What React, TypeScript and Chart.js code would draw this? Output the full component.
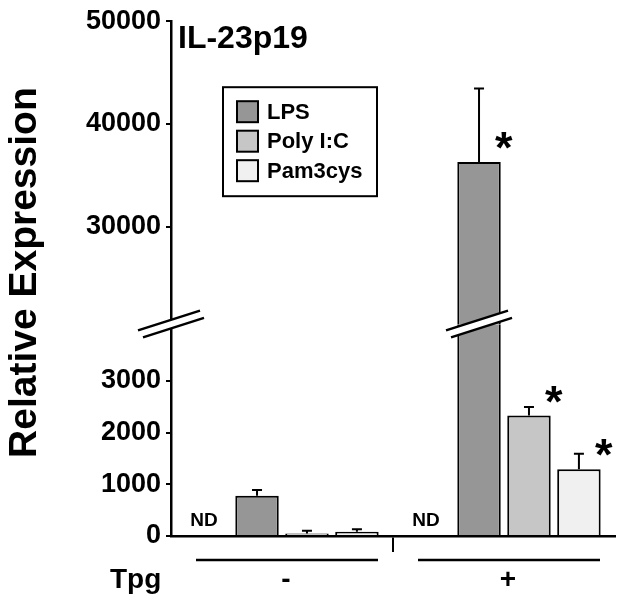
import React, { useEffect, useRef } from 'react';
import { Chart, registerables } from 'chart.js';

Chart.register(...registerables);

// ---------- data ----------
const GROUPS = ['-', '+'];
const TREATMENTS = ['LPS', 'Poly I:C', 'Pam3cys'];
const LPS_VALUES = [780, 36300];
const POLY_VALUES = [50, 2330];
const PAM_VALUES = [80, 1290];
const LPS_ERRORS = [110, 7150];
const POLY_ERRORS = [50, 165];
const PAM_ERRORS = [50, 300];
const LPS_SIG = [false, true];
const POLY_SIG = [false, true];
const PAM_SIG = [false, true];
const ND_LABELS = ['ND', 'ND'];
const LOW_TICKS = [0, 1000, 2000, 3000];
const HIGH_TICKS = [30000, 40000, 50000];
const LOW_MAX = 4100;
const HIGH_MIN = 20500;
const HIGH_MAX = 50000;
const CHART_TITLE = 'IL-23p19';
const Y_TITLE = 'Relative Expression';
const X_TITLE = 'Tpg';

const VALUES = [LPS_VALUES, POLY_VALUES, PAM_VALUES];
const ERRORS = [LPS_ERRORS, POLY_ERRORS, PAM_ERRORS];
const SIGS = [LPS_SIG, POLY_SIG, PAM_SIG];
const COLORS = ['#969696', '#c6c6c6', '#f0f0f0'];

const FONT = "'Liberation Sans', Arial, Helvetica, sans-serif";

function drawBreak(ctx: CanvasRenderingContext2D, cx: number, cy: number) {
  const slope = 0.32;
  const gap = 4.3;
  const l1 = [cx - 33, cx + 29];
  const l2 = [cx - 28, cx + 33];
  const yAt = (x: number, off: number) => cy - (x - cx) * slope + off;
  ctx.save();
  ctx.fillStyle = '#ffffff';
  ctx.beginPath();
  ctx.moveTo(l1[0], yAt(l1[0], -gap));
  ctx.lineTo(l1[1], yAt(l1[1], -gap));
  ctx.lineTo(l2[1], yAt(l2[1], gap));
  ctx.lineTo(l2[0], yAt(l2[0], gap));
  ctx.closePath();
  ctx.fill();
  ctx.strokeStyle = '#000';
  ctx.lineWidth = 2.5;
  ctx.beginPath();
  ctx.moveTo(l1[0], yAt(l1[0], -gap));
  ctx.lineTo(l1[1], yAt(l1[1], -gap));
  ctx.moveTo(l2[0], yAt(l2[0], gap));
  ctx.lineTo(l2[1], yAt(l2[1], gap));
  ctx.stroke();
  ctx.restore();
}

const decor = {
  id: 'decor',
  afterDatasetsDraw(chart: any) {
    const ctx: CanvasRenderingContext2D = chart.ctx;
    const yLow = chart.scales.yLow;
    const yHigh = chart.scales.yHigh;
    ctx.save();
    TREATMENTS.forEach((_t, ti) => {
      const vals = VALUES[ti];
      vals.forEach((v, i) => {
        const el = chart.getDatasetMeta(1 + 2 * ti).data[i];
        const x = el.x;
        const scale = v > LOW_MAX ? yHigh : yLow;
        const y0 = scale.getPixelForValue(v);
        const y1 = scale.getPixelForValue(v + ERRORS[ti][i]);
        ctx.strokeStyle = '#000';
        ctx.lineWidth = 2;
        ctx.beginPath();
        ctx.moveTo(x, y0);
        ctx.lineTo(x, y1);
        ctx.moveTo(x - 5, y1);
        ctx.lineTo(x + 5, y1);
        ctx.stroke();
        if (SIGS[ti][i]) {
          ctx.fillStyle = '#000';
          ctx.font = `bold 45px ${FONT}`;
          ctx.textAlign = 'center';
          ctx.textBaseline = 'alphabetic';
          ctx.fillText('*', x + el.width / 2 + 3, y0 + 1);
        }
      });
    });
    // ND labels
    const ndMeta = chart.getDatasetMeta(0);
    ctx.fillStyle = '#000';
    ctx.font = `bold 19px ${FONT}`;
    ctx.textAlign = 'center';
    ctx.textBaseline = 'middle';
    ND_LABELS.forEach((lab, i) => {
      const el = ndMeta.data[i];
      ctx.fillText(lab, el.x - 3, yLow.getPixelForValue(0) - 15);
    });
    ctx.restore();
  },
  afterDraw(chart: any) {
    const ctx: CanvasRenderingContext2D = chart.ctx;
    const area = chart.chartArea;
    const yLow = chart.scales.yLow;
    const xScale = chart.scales.x;
    const breakY = yLow.top;
    // axis break
    drawBreak(ctx, area.left, breakY);
    // bar breaks
    TREATMENTS.forEach((_t, ti) => {
      VALUES[ti].forEach((v, i) => {
        if (v > LOW_MAX) {
          const el = chart.getDatasetMeta(1 + 2 * ti).data[i];
          drawBreak(ctx, el.x, breakY);
        }
      });
    });
    ctx.save();
    ctx.fillStyle = '#000';
    // chart title
    ctx.font = `bold 32px ${FONT}`;
    ctx.textAlign = 'left';
    ctx.textBaseline = 'alphabetic';
    ctx.fillText(CHART_TITLE, area.left + 7, area.top + 27);
    // y title
    ctx.save();
    ctx.translate(36, (area.top + area.bottom) / 2 - 6);
    ctx.rotate(-Math.PI / 2);
    ctx.font = `bold 39px ${FONT}`;
    ctx.textAlign = 'center';
    ctx.textBaseline = 'alphabetic';
    ctx.fillText(Y_TITLE, 0, 0);
    ctx.restore();
    // legend
    const lx = area.left + 52;
    const ly = area.top + 66;
    ctx.strokeStyle = '#000';
    ctx.lineWidth = 2;
    ctx.strokeRect(lx, ly, 154, 109);
    TREATMENTS.forEach((t, ti) => {
      const sy = ly + 14 + ti * 29.5;
      ctx.fillStyle = COLORS[ti];
      ctx.fillRect(lx + 14, sy, 21, 21);
      ctx.strokeStyle = '#000';
      ctx.lineWidth = 2;
      ctx.strokeRect(lx + 14, sy, 21, 21);
      ctx.fillStyle = '#000';
      ctx.font = `bold 22px ${FONT}`;
      ctx.textAlign = 'left';
      ctx.textBaseline = 'middle';
      ctx.fillText(t, lx + 44, sy + 11.5);
    });
    // group lines and labels
    const bottom = area.bottom;
    ctx.font = `bold 28px ${FONT}`;
    ctx.textAlign = 'center';
    ctx.textBaseline = 'alphabetic';
    GROUPS.forEach((g, i) => {
      const cx = xScale.getPixelForValue(i);
      ctx.lineWidth = 2.5;
      ctx.beginPath();
      ctx.moveTo(cx - 86, bottom + 24);
      ctx.lineTo(cx + 96, bottom + 24);
      ctx.stroke();
      ctx.fillText(g, cx + 4, bottom + 52);
    });
    ctx.textAlign = 'left';
    ctx.fillText(X_TITLE, 110, bottom + 52);
    ctx.restore();
  },
};

export default function App() {
  const ref = useRef<HTMLCanvasElement>(null);
  useEffect(() => {
    const canvas = ref.current;
    if (!canvas) return;
    const datasets: any[] = [
      {
        label: 'ND',
        data: GROUPS.map(() => 0),
        yAxisID: 'yLow',
        stack: 'none',
        backgroundColor: 'rgba(0,0,0,0)',
        borderWidth: 0,
      },
    ];
    TREATMENTS.forEach((t, ti) => {
      const vals = VALUES[ti];
      datasets.push({
        label: t,
        data: vals.map((v) => Math.min(v, LOW_MAX)),
        yAxisID: 'yLow',
        stack: t,
        backgroundColor: COLORS[ti],
        borderColor: '#000',
        borderWidth: (c: any) =>
          c.raw >= LOW_MAX ? { left: 2, right: 2, top: 0, bottom: 0 } : 2,
      });
      datasets.push({
        label: t + ' high',
        data: vals.map((v) => (v > LOW_MAX ? v : null)),
        yAxisID: 'yHigh',
        stack: t,
        backgroundColor: COLORS[ti],
        borderColor: '#000',
        borderWidth: 2,
      });
    });

    const yCommon = (tickValues: number[]) => ({
      type: 'linear',
      position: 'left',
      stack: 'y',
      stacked: false,
      offset: false,
      beginAtZero: false,
      border: { display: true, color: '#000', width: 2.5 },
      grid: {
        drawOnChartArea: false,
        drawTicks: true,
        tickLength: 5,
        color: '#000',
        lineWidth: 2,
      },
      ticks: {
        padding: 5,
        color: '#000',
        autoSkip: false,
        font: { family: FONT, size: 27, weight: 'bold' },
        callback: (v: any) => String(v),
      },
      afterBuildTicks: (s: any) => {
        s.ticks = tickValues.map((v) => ({ value: v }));
      },
      afterFit: (s: any) => {
        s.width = 171;
      },
    });

    const chart = new Chart(canvas, {
      type: 'bar',
      data: { labels: GROUPS, datasets },
      plugins: [decor],
      options: {
        animation: false,
        responsive: false,
        maintainAspectRatio: false,
        layout: { padding: { left: 0, top: 20, right: 9, bottom: 0 } },
        datasets: { bar: { categoryPercentage: 0.9, barPercentage: 0.87 } },
        plugins: {
          legend: { display: false },
          tooltip: { enabled: false },
          title: { display: false },
        },
        scales: {
          x: {
            type: 'category',
            stacked: true,
            offset: true,
            border: { display: true, color: '#000', width: 2.5 },
            grid: {
              offset: true,
              drawOnChartArea: false,
              drawTicks: true,
              tickLength: 16,
              lineWidth: 2,
              color: (c: any) => (c.index === 1 ? '#000' : 'rgba(0,0,0,0)'),
            },
            ticks: { display: false },
            afterFit: (s: any) => {
              s.height = 67;
            },
          },
          yLow: {
            ...yCommon(LOW_TICKS),
            min: 0,
            max: LOW_MAX,
            stackWeight: 1,
          },
          yHigh: {
            ...yCommon(HIGH_TICKS),
            min: HIGH_MIN,
            max: HIGH_MAX,
            stackWeight: 1.43,
          },
        } as any,
      } as any,
    });
    return () => chart.destroy();
  }, []);

  return (
    <div style={{ position: 'fixed', left: 0, top: 0, width: 624, height: 603, background: '#fff' }}>
      <canvas ref={ref} width={624} height={603} style={{ display: 'block' }} />
    </div>
  );
}
